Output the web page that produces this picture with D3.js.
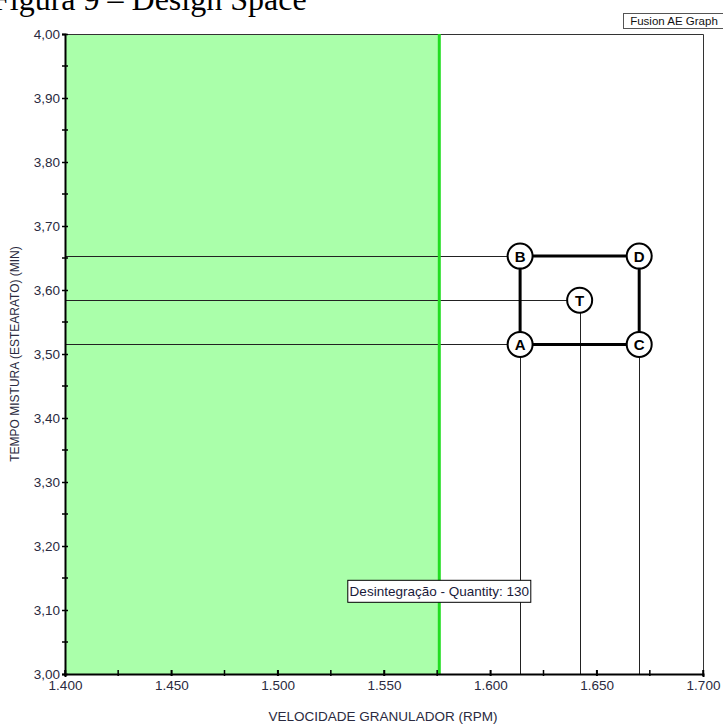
<!DOCTYPE html>
<html><head><meta charset="utf-8">
<script src="https://cdn.jsdelivr.net/npm/d3@7"></script>
<style>body{margin:0;background:#fff;}svg{display:block;}</style>
</head><body>
<script>
// Data
const xTickValues = [1400, 1450, 1500, 1550, 1600, 1650, 1700];
const xMinorTicks = [1400,1425,1450,1475,1500,1525,1550,1575,1600,1625,1650,1675,1700];
const yTickValues = [3.0,3.1,3.2,3.3,3.4,3.5,3.6,3.7,3.8,3.9,4.0];
const yMinorTicks = [3.05,3.15,3.25,3.35,3.45,3.55,3.65,3.75,3.85,3.95];
const pointNames = ["A","B","C","D","T"];
const pointX = [1614, 1614, 1670, 1670, 1642];
const pointY = [3.515, 3.653, 3.515, 3.653, 3.584];
const hLines = ["A","B","T"];
const vLines = ["A","T","C"];
const rectOrder = ["A","B","D","C"];
const constraintX = 1576;
const constraintLabel = "Desintegração - Quantity: 130";
const constraintLabelY = 3.13;
const titleText = "Figura 9 – Design Space";
const xTitle = "VELOCIDADE GRANULADOR (RPM)";
const yTitle = "TEMPO MISTURA (ESTEARATO) (MIN)";

const W = 723, H = 724;
const SANS = "Liberation Sans, Arial, sans-serif";
const svg = d3.select("body").append("svg").attr("width",W).attr("height",H);
const x = d3.scaleLinear().domain([1400,1700]).range([65,703]);
const y = d3.scaleLinear().domain([3,4]).range([674,34]);
const loc = d3.formatLocale({decimal:",", thousands:".", grouping:[3], currency:["",""]});
const fx = loc.format(",d"), fy = loc.format(".2f");
const pts = {};
pointNames.forEach((n,i)=>pts[n]={x:pointX[i], y:pointY[i]});

// Title (cut at top as in the source)
svg.append("text").attr("x",-8).attr("y",10).attr("font-family","Liberation Serif, Times New Roman, serif")
  .attr("font-size",32).attr("fill","#000").text(titleText);

// Fusion box
const fg = svg.append("g");
fg.append("rect").attr("x",623.5).attr("y",13.5).attr("width",100).attr("height",15).attr("fill","#fff").attr("stroke","#555");
fg.append("text").attr("x",674).attr("y",25).attr("text-anchor","middle").attr("font-family",SANS).attr("font-size",11.5).attr("fill","#111").text("Fusion AE Graph");

// green area
svg.append("rect").attr("x",x(1400)).attr("y",y(4)).attr("width",x(constraintX)-x(1400)).attr("height",y(3)-y(4)).attr("fill","#aaffaa");

// frame top/right
svg.append("path").attr("d",`M${x(1400)},${y(4)+0.5}H${x(1700)+0.5}V${y(3)}`).attr("fill","none").attr("stroke","#333").attr("stroke-width",1);

// guide lines
const lg = svg.append("g").attr("stroke","#222").attr("stroke-width",1);
hLines.forEach(n=>{
  const p=pts[n];
  lg.append("line").attr("x1",x(1400)).attr("x2",x(p.x)).attr("y1",Math.round(y(p.y))+0.5).attr("y2",Math.round(y(p.y))+0.5);
});
vLines.forEach(n=>{
  const p=pts[n];
  lg.append("line").attr("x1",Math.round(x(p.x))+0.5).attr("x2",Math.round(x(p.x))+0.5).attr("y1",y(p.y)).attr("y2",y(3));
});

// green line
svg.append("line").attr("x1",x(constraintX)).attr("x2",x(constraintX)).attr("y1",y(4)).attr("y2",y(3)).attr("stroke","#22dd22").attr("stroke-width",3);

// rectangle
svg.append("path").attr("d", d3.line().x(n=>x(pts[n].x)).y(n=>y(pts[n].y)).curve(d3.curveLinearClosed)(rectOrder))
  .attr("fill","none").attr("stroke","#000").attr("stroke-width",3);

// points
const pg = svg.append("g").selectAll("g").data(pointNames).join("g")
  .attr("transform",n=>`translate(${x(pts[n].x)},${y(pts[n].y)})`);
pg.append("circle").attr("r",12.5).attr("fill","#fff").attr("stroke","#000").attr("stroke-width",2);
pg.append("text").attr("y",5.5).attr("text-anchor","middle").attr("font-family",SANS).attr("font-weight","bold").attr("font-size",15).attr("fill","#000").text(n=>n);

// constraint label
const lb = svg.append("g").attr("transform",`translate(${x(constraintX)},${y(constraintLabelY)})`);
const lt = lb.append("text").attr("y",5).attr("text-anchor","middle").attr("font-family",SANS).attr("font-size",13.5).attr("fill","#1a1a3a").text(constraintLabel);
const bb = lt.node().getBBox();
lb.insert("rect","text").attr("x",Math.round(bb.x-2)+0.5).attr("y",-10.5).attr("width",Math.round(bb.width+4)).attr("height",22).attr("fill","#fff").attr("stroke","#000");

// axes
const xAxis = svg.append("g").attr("transform",`translate(0,${y(3)})`)
  .call(d3.axisBottom(x).tickValues(xTickValues).tickFormat(fx).tickSize(3));
const yAxis = svg.append("g").attr("transform",`translate(${x(1400)},0)`)
  .call(d3.axisLeft(y).tickValues(yTickValues).tickFormat(fy).tickSize(3).tickPadding(2));
[xAxis,yAxis].forEach(a=>{
  a.select(".domain").attr("stroke","#000").attr("stroke-width",2);
  a.selectAll("text").attr("font-family",SANS).attr("font-size",13.5).attr("fill","#2a2a40");
  a.selectAll(".tick line").attr("stroke","#000").attr("stroke-width",1.5);
});
xAxis.selectAll(".tick line").attr("y1",-4).attr("y2",2);
xAxis.selectAll("text").attr("y",15.5).attr("dy",0);
yAxis.selectAll(".tick line").attr("x1",3).attr("x2",-3);
yAxis.selectAll("text").attr("dy","0.36em");
// minor ticks
const mg = svg.append("g").attr("stroke","#000").attr("stroke-width",1.5);
xMinorTicks.forEach(v=>mg.append("line").attr("x1",x(v)).attr("x2",x(v)).attr("y1",y(3)-4).attr("y2",y(3)+2));
yMinorTicks.forEach(v=>mg.append("line").attr("x1",x(1400)-3).attr("x2",x(1400)+3).attr("y1",y(v)).attr("y2",y(v)));

// titles
svg.append("text").attr("x",383).attr("y",721).attr("text-anchor","middle").attr("font-family",SANS).attr("font-size",13.5).attr("fill","#2a2a40").text(xTitle);
svg.append("text").attr("transform","translate(19,354) rotate(-90)").attr("text-anchor","middle").attr("font-family",SANS).attr("font-size",12).attr("fill","#2a2a40").text(yTitle);
</script>
</body></html>
